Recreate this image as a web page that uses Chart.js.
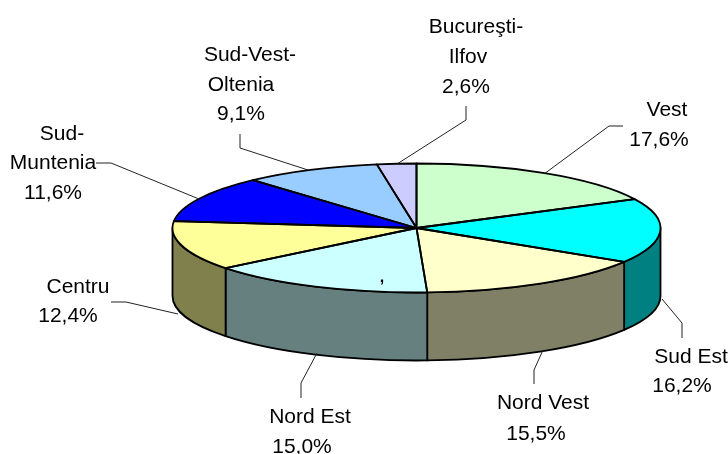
<!DOCTYPE html>
<html>
<head>
<meta charset="utf-8">
<title>Regiuni</title>
<script src="https://cdn.jsdelivr.net/npm/chart.js@4"></script>
<style>
  html, body { margin: 0; padding: 0; background: #fff; overflow: hidden; }
  canvas { display: block; }
</style>
</head>
<body>
<canvas id="pie" width="728" height="454"></canvas>
<script>
// DATA
const regions = ['Vest', 'Sud Est', 'Nord Vest', 'Nord Est', 'Centru', 'Sud-Muntenia', 'Sud-Vest-Oltenia', 'Bucureşti-Ilfov'];
const shares = [17.6, 16.2, 15.5, 15.0, 12.4, 11.6, 9.1, 2.6];
const labelLines = [['Vest'], ['Sud Est'], ['Nord Vest'], ['Nord Est'], ['Centru'], ['Sud-', 'Muntenia'], ['Sud-Vest-', 'Oltenia'], ['Bucureşti-', 'Ilfov']];
const topColors = ['#CCFFCC', '#00FFFF', '#FFFFCC', '#CCFFFF', '#FFFF99', '#0000FF', '#99CCFF', '#CCCCFF'];
const wallColors = ['#668066', '#008080', '#808066', '#668080', '#80804D', '#000080', '#4D6680', '#666680'];

// LAYOUT: [x centre, baseline] for each text line, last one is the percentage
const labelSpots = [
    [[667, 116], [659, 146]],
    [[691, 363], [682, 392]],
    [[543, 409], [536, 440]],
    [[310, 423], [302, 453]],
    [[78, 293], [68, 322]],
    [[62, 140], [53, 169], [53, 199]],
    [[250, 61], [241, 91], [241, 120]],
    [[476, 33], [468, 63], [466, 93]]
];
const leaders = [
    [[623, 126], [609, 126], [544, 174]],
    [[682, 338], [682, 323], [662, 299]],
    [[534, 384], [534, 370], [543, 350]],
    [[301, 398], [301, 383], [317, 353]],
    [[111, 302], [126, 302], [178, 314]],
    [[96, 163], [111, 163], [199, 199]],
    [[240, 134], [240, 148], [308, 170]],
    [[466, 106], [466, 120], [397, 164]]
];
const squash = 64.5 / 244;
const wallDepth = 68;
const edge = 1.8;

const pie3d = {
    id: 'pie3d',
    beforeDatasetsDraw(chart) {
        const ctx = chart.ctx;
        const arcs = chart.getDatasetMeta(0).data;
        const { x, y, outerRadius } = arcs[0];
        const ry = outerRadius * squash;
        ctx.save();
        ctx.lineWidth = edge;
        ctx.strokeStyle = '#000';
        ctx.lineJoin = 'round';
        // side wall, only the front half of the ellipse shows
        arcs.forEach((arc, i) => {
            const from = Math.max(arc.startAngle, 0);
            const to = Math.min(arc.endAngle, Math.PI);
            if (to <= from) return;
            ctx.beginPath();
            ctx.ellipse(x, y, outerRadius, ry, 0, from, to);
            ctx.ellipse(x, y + wallDepth, outerRadius, ry, 0, to, from, true);
            ctx.closePath();
            ctx.fillStyle = wallColors[i];
            ctx.fill();
            ctx.stroke();
        });
        ctx.restore();
        // the library arcs get drawn flattened
        ctx.save();
        ctx.translate(x, y);
        ctx.scale(1, squash);
        ctx.translate(-x, -y);
    },
    afterDatasetsDraw(chart) {
        const ctx = chart.ctx;
        ctx.restore();
        const arcs = chart.getDatasetMeta(0).data;
        const { x, y, outerRadius } = arcs[0];
        const ry = outerRadius * squash;
        ctx.save();
        ctx.lineWidth = edge;
        ctx.strokeStyle = '#000';
        ctx.lineJoin = 'round';
        arcs.forEach(arc => {
            ctx.beginPath();
            ctx.moveTo(x, y);
            ctx.ellipse(x, y, outerRadius, ry, 0, arc.startAngle, arc.endAngle);
            ctx.closePath();
            ctx.stroke();
        });
        ctx.restore();
    },
    afterDraw(chart) {
        const ctx = chart.ctx;
        ctx.save();
        ctx.strokeStyle = '#222';
        ctx.lineWidth = 1;
        leaders.forEach(pts => {
            ctx.beginPath();
            pts.forEach((p, i) => i ? ctx.lineTo(p[0], p[1]) : ctx.moveTo(p[0], p[1]));
            ctx.stroke();
        });
        ctx.fillStyle = '#000';
        ctx.font = '21px "Liberation Sans"';
        ctx.textAlign = 'center';
        ctx.textBaseline = 'alphabetic';
        labelLines.forEach((lines, i) => {
            const texts = lines.concat(shares[i].toFixed(1).replace('.', ',') + '%');
            texts.forEach((t, j) => ctx.fillText(t, labelSpots[i][j][0], labelSpots[i][j][1]));
        });
        // stray comma sitting on the Nord Est slice
        ctx.font = 'bold 16px "Liberation Sans"';
        ctx.fillText(',', 382, 282);
        ctx.restore();
    }
};

new Chart(document.getElementById('pie').getContext('2d'), {
    type: 'pie',
    data: {
        labels: regions,
        datasets: [{ data: shares, backgroundColor: topColors, borderWidth: 0 }]
    },
    options: {
        responsive: false,
        animation: false,
        radius: 244,
        layout: { padding: { left: 105, top: 2 } },
        plugins: { legend: { display: false }, tooltip: { enabled: false } }
    },
    plugins: [pie3d]
});
</script>
</body>
</html>
